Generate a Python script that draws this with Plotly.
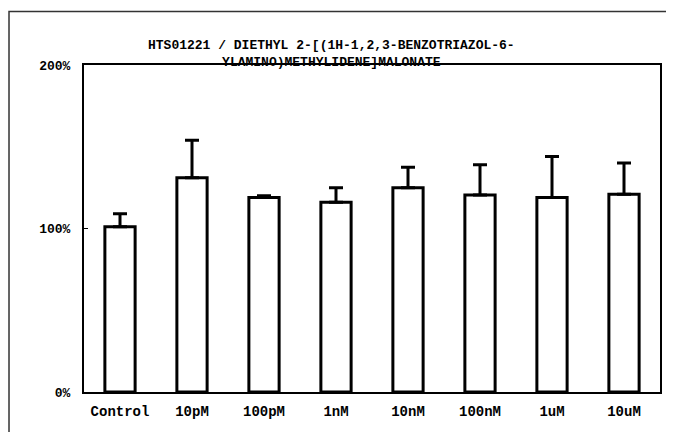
import plotly.graph_objects as go

categories = ["Control", "10pM", "100pM", "1nM", "10nM", "100nM", "1uM", "10uM"]
means = [101, 131, 119, 116, 125, 120.5, 119, 121]
errors_up = [8, 23, 1, 9, 12.5, 18.5, 25, 19]
title_text = "HTS01221 / DIETHYL 2-[(1H-1,2,3-BENZOTRIAZOL-6-<br>YLAMINO)METHYLIDENE]MALONATE"
y_tickvals = [0, 100, 200]
y_ticktext = ["0%", "100%", "200%"]

FONT = "Liberation Mono"

fig = go.Figure()
fig.add_trace(go.Bar(
    x=categories,
    y=means,
    width=0.42,
    marker=dict(color="white", line=dict(color="black", width=3)),
    error_y=dict(type="data", symmetric=False, array=errors_up,
                 arrayminus=[0] * len(errors_up),
                 color="black", thickness=3, width=7),
    showlegend=False,
))

# page body has an 8px default margin; size the figure to compensate
fig.update_layout(
    width=666, height=424,
    margin=dict(l=76, r=12, t=57, b=37),
    paper_bgcolor="white", plot_bgcolor="white",
    font=dict(family=FONT, size=13, color="black", weight="bold"),
    xaxis=dict(showline=True, linecolor="black", linewidth=2, mirror=True,
               showgrid=False, ticks="outside", ticklen=5, tickcolor="white",
               tickfont=dict(family=FONT, size=14, weight="bold")),
    yaxis=dict(range=[0, 200], tickvals=y_tickvals, ticktext=y_ticktext,
               showline=True, linecolor="black", linewidth=2, mirror=True,
               showgrid=False, zeroline=False, ticks="inside", ticklen=4,
               tickcolor="black", ticklabelstandoff=9,
               tickfont=dict(family=FONT, size=13, weight="bold")),
    annotations=[dict(text=title_text, xref="paper", yref="paper",
                      x=0.43, y=1.035, xanchor="center", yanchor="middle",
                      showarrow=False,
                      font=dict(family=FONT, size=13, weight="bold"))],
    shapes=[dict(type="rect", xref="paper", yref="paper",
                 x0=-0.1302, x1=1.2, y0=-0.3, y1=1.1636,
                 line=dict(color="#333333", width=1.5))],
)

fig.write_html("out.html")
